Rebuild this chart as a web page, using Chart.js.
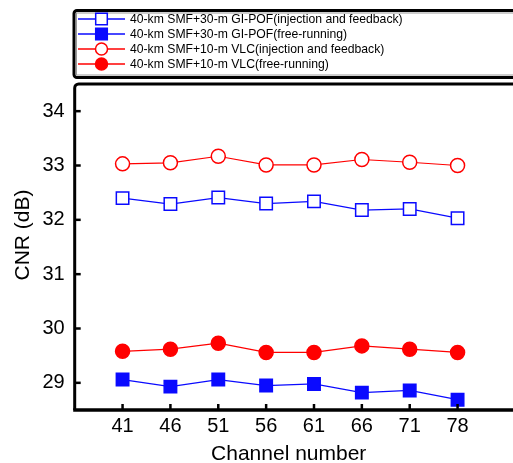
<!DOCTYPE html>
<html>
<head>
<meta charset="utf-8">
<script src="https://cdn.jsdelivr.net/npm/chart.js@4.4.0/dist/chart.umd.min.js"></script>
<style>
  html, body { margin: 0; padding: 0; background: #fff; overflow: hidden; }
  #wrap { width: 513px; height: 463px; }
</style>
</head>
<body>
<div id="wrap"><canvas id="cnrChart" width="513" height="463"></canvas></div>
<script>
const channels = ['41', '46', '51', '56', '61', '66', '71', '78'];
const yTicks = [29, 30, 31, 32, 33, 34];

const pofInjection = [32.40, 32.29, 32.41, 32.30, 32.34, 32.18, 32.20, 32.03];
const pofFree = [29.06, 28.93, 29.06, 28.95, 28.98, 28.82, 28.86, 28.69];
const vlcInjection = [33.03, 33.05, 33.17, 33.01, 33.01, 33.11, 33.06, 33.00];
const vlcFree = [29.58, 29.62, 29.73, 29.56, 29.56, 29.68, 29.62, 29.56];

const seriesNames = [
    '40-km SMF+30-m GI-POF(injection and feedback)',
    '40-km SMF+30-m GI-POF(free-running)',
    '40-km SMF+10-m VLC(injection and feedback)',
    '40-km SMF+10-m VLC(free-running)'
];

const FONT = '"Liberation Sans", Arial, Helvetica, sans-serif';
const BLUE = '#0a0aff';
const RED = '#ff0000';

function toPoints(arr) {
    return arr.map((v, i) => ({ x: i, y: v }));
}

function makeSet(label, values, color, style, filled, radius) {
    return {
        label: label,
        data: toPoints(values),
        borderColor: color,
        borderWidth: 1.2,
        pointStyle: style,
        pointRadius: radius,
        pointHoverRadius: radius,
        pointBorderWidth: 1.5,
        pointBorderColor: color,
        pointBackgroundColor: filled ? color : '#ffffff',
        tension: 0,
        fill: false
    };
}

// frame, inward tick marks, y title and the boxed legend
const framePlugin = {
    id: 'framePlugin',
    afterDraw(chart) {
        const ctx = chart.ctx;
        const a = chart.chartArea;
        const xs = chart.scales.x, ys = chart.scales.y;
        ctx.save();
        ctx.strokeStyle = '#000';

        // tick marks pointing inward
        ctx.lineWidth = 2.5;
        yTicks.forEach(v => {
            const y = ys.getPixelForValue(v);
            ctx.beginPath();
            ctx.moveTo(a.left, y);
            ctx.lineTo(a.left + 6, y);
            ctx.stroke();
        });
        channels.forEach((c, i) => {
            const x = xs.getPixelForValue(i);
            ctx.beginPath();
            ctx.moveTo(x, a.bottom);
            ctx.lineTo(x, a.bottom - 6);
            ctx.stroke();
        });

        // axes frame (right side runs off the picture)
        ctx.lineWidth = 3;
        ctx.beginPath();
        ctx.moveTo(a.left, a.bottom);
        ctx.lineTo(a.left, a.top + 4);
        ctx.arcTo(a.left, a.top, a.left + 4, a.top, 4);
        ctx.lineTo(a.right + 20, a.top);
        ctx.stroke();
        ctx.lineWidth = 3.5;
        ctx.beginPath();
        ctx.moveTo(a.left - 1.5, a.bottom);
        ctx.lineTo(a.right + 20, a.bottom);
        ctx.stroke();

        // y axis title
        ctx.save();
        ctx.translate(23, 235);
        ctx.rotate(-Math.PI / 2);
        ctx.fillStyle = '#000';
        ctx.font = '21px ' + FONT;
        ctx.textAlign = 'center';
        ctx.textBaseline = 'middle';
        ctx.fillText('CNR (dB)', 0, 0);
        ctx.restore();

        // legend box
        const bx = 74, by = 10.5, bb = 77.5;
        ctx.lineWidth = 3;
        ctx.beginPath();
        ctx.moveTo(a.right + 20, by);
        ctx.lineTo(bx + 3, by);
        ctx.arcTo(bx, by, bx, by + 3, 3);
        ctx.lineTo(bx, bb - 3);
        ctx.arcTo(bx, bb, bx + 3, bb, 3);
        ctx.lineTo(a.right + 20, bb);
        ctx.stroke();
        ctx.strokeStyle = '#9a9a9a';
        ctx.lineWidth = 1;
        ctx.strokeRect(bx + 2.5, by + 2.5, 600, bb - by - 5);

        const rows = [19, 34, 49, 64];
        const legendRadius = [8.2, 8.2, 6, 6];
        chart.data.datasets.forEach((ds, i) => {
            const y = rows[i];
            ctx.strokeStyle = ds.borderColor;
            ctx.lineWidth = 1.5;
            ctx.beginPath();
            ctx.moveTo(78, y);
            ctx.lineTo(125, y);
            ctx.stroke();
            ctx.fillStyle = ds.pointBackgroundColor;
            ctx.strokeStyle = ds.pointBorderColor;
            ctx.lineWidth = 1.5;
            Chart.helpers.drawPoint(ctx, {
                pointStyle: ds.pointStyle,
                radius: legendRadius[i],
                borderWidth: 1.5,
                rotation: 0
            }, 101.5, y);
            ctx.fillStyle = '#000';
            ctx.font = '12.2px ' + FONT;
            ctx.textAlign = 'left';
            ctx.textBaseline = 'middle';
            ctx.fillText(seriesNames[i], 130, y + 0.5);
        });
        ctx.restore();
    }
};

const chart = new Chart(document.getElementById('cnrChart').getContext('2d'), {
    type: 'line',
    data: {
        datasets: [
            makeSet(seriesNames[0], pofInjection, BLUE, 'rect', false, 8.8),
            makeSet(seriesNames[1], pofFree, BLUE, 'rect', true, 8.8),
            makeSet(seriesNames[2], vlcInjection, RED, 'circle', false, 7),
            makeSet(seriesNames[3], vlcFree, RED, 'circle', true, 7)
        ]
    },
    options: {
        responsive: false,
        devicePixelRatio: 1,
        animation: false,
        layout: { padding: { top: 84, left: 0, right: 0, bottom: 0 } },
        plugins: {
            legend: { display: false },
            tooltip: { enabled: false }
        },
        scales: {
            x: {
                type: 'linear',
                min: -1,
                max: 7.943,
                grid: { display: false, drawTicks: false },
                border: { display: false },
                afterBuildTicks: s => { s.ticks = channels.map((c, i) => ({ value: i })); },
                afterFit: s => { s.height = 53; },
                ticks: {
                    color: '#000',
                    padding: 4,
                    maxRotation: 0,
                    autoSkip: false,
                    font: { family: FONT, size: 20 },
                    callback: v => channels[v]
                },
                title: {
                    display: true,
                    text: 'Channel number',
                    color: '#000',
                    padding: 0,
                    font: { family: FONT, size: 21, lineHeight: 0.8 }
                }
            },
            y: {
                min: 28.5,
                max: 34.5,
                grid: { display: false, drawTicks: false },
                border: { display: false },
                afterBuildTicks: s => { s.ticks = yTicks.map(v => ({ value: v })); },
                afterFit: s => { s.width = 74.7; },
                ticks: {
                    color: '#000',
                    padding: 10,
                    font: { family: FONT, size: 20 }
                },
                title: { display: false }
            }
        }
    },
    plugins: [framePlugin]
});
</script>
</body>
</html>
